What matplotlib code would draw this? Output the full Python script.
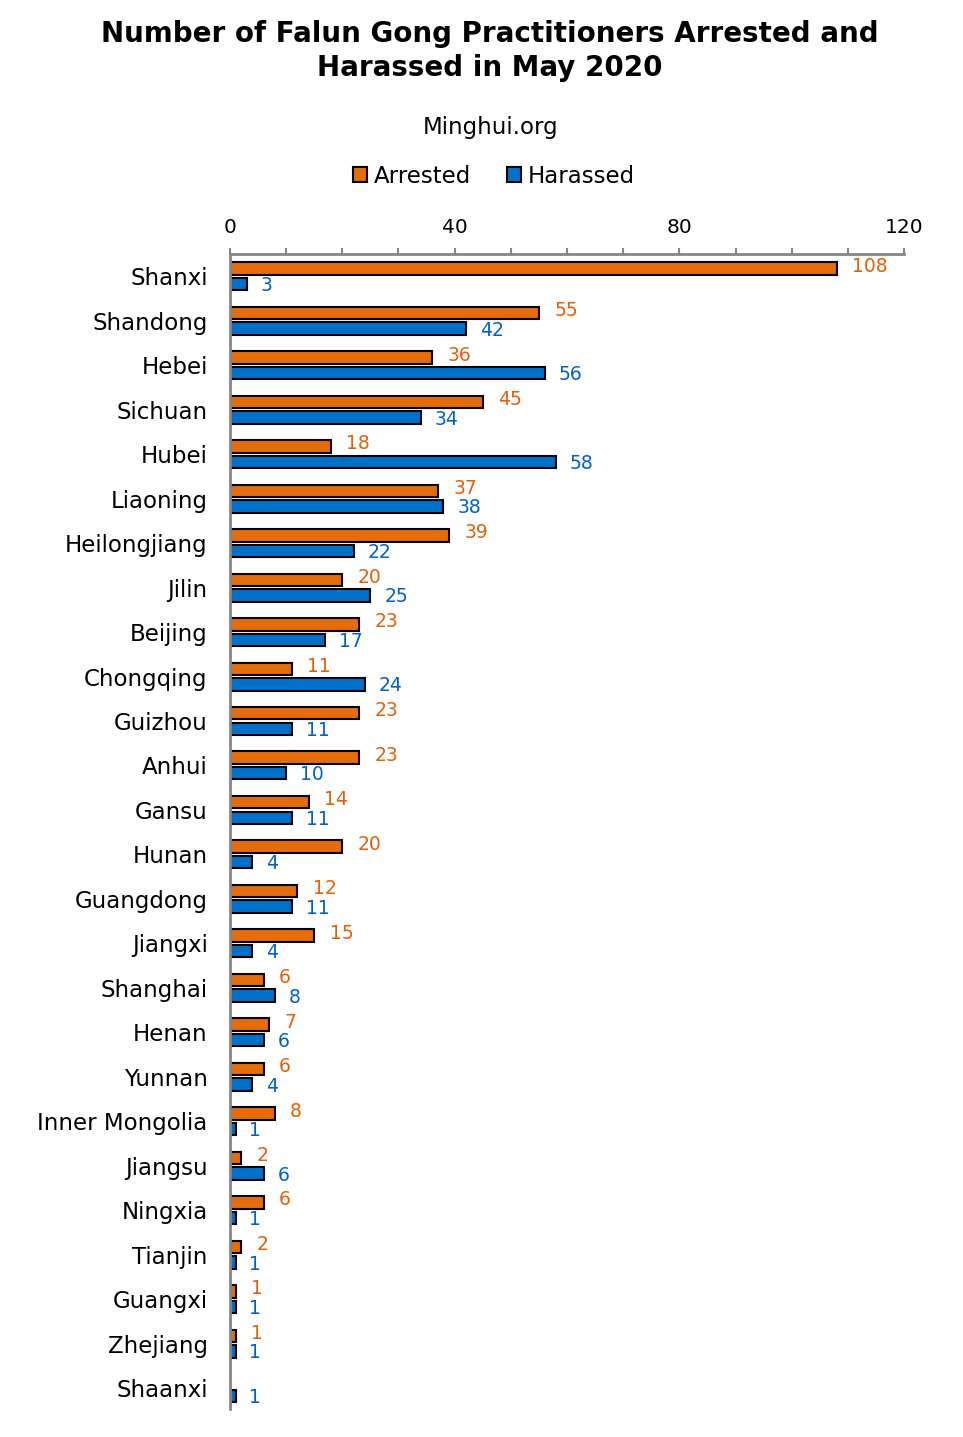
import matplotlib
matplotlib.use("Agg")
import matplotlib.pyplot as plt
from matplotlib.ticker import MultipleLocator
from matplotlib.patches import Patch
import numpy as np

provinces = ["Shanxi", "Shandong", "Hebei", "Sichuan", "Hubei", "Liaoning",
             "Heilongjiang", "Jilin", "Beijing", "Chongqing", "Guizhou", "Anhui",
             "Gansu", "Hunan", "Guangdong", "Jiangxi", "Shanghai", "Henan",
             "Yunnan", "Inner Mongolia", "Jiangsu", "Ningxia", "Tianjin",
             "Guangxi", "Zhejiang", "Shaanxi"]
arrested = [108, 55, 36, 45, 18, 37, 39, 20, 23, 11, 23, 23, 14, 20, 12, 15,
            6, 7, 6, 8, 2, 6, 2, 1, 1, 0]
harassed = [3, 42, 56, 34, 58, 38, 22, 25, 17, 24, 11, 10, 11, 4, 11, 4,
            8, 6, 4, 1, 6, 1, 1, 1, 1, 1]

ORANGE = "#E46C0A"
BLUE = "#0070C9"
ORANGE_TXT = "#E0610A"
BLUE_TXT = "#0060C8"
GRAY = "#868686"

fig = plt.figure(figsize=(9.63, 14.37), dpi=100)
ax = fig.add_axes([0.2388, 0.0195, 0.7000, 0.8037])

y = np.arange(len(provinces))
h = 0.28
ax.barh(y - 0.175, arrested, height=h, color=ORANGE, edgecolor="black", linewidth=1.5)
ax.barh(y + 0.175, harassed, height=h, color=BLUE, edgecolor="black", linewidth=1.5)

# value labels, orange a bit above, blue a bit below
for i in range(len(provinces)):
    if arrested[i] > 0:
        ax.annotate(str(arrested[i]), (arrested[i], y[i] - 0.23), xytext=(11, 0),
                    textcoords="offset points", ha="left", va="center",
                    fontsize=13.5, color=ORANGE_TXT)
    ax.annotate(str(harassed[i]), (harassed[i], y[i] + 0.21), xytext=(10, 0),
                textcoords="offset points", ha="left", va="center",
                fontsize=13.5, color=BLUE_TXT)

ax.set_xlim(0, 120)
ax.set_ylim(25.47, -0.5)
ax.xaxis.set_major_locator(MultipleLocator(40))
ax.xaxis.set_minor_locator(MultipleLocator(10))
ax.xaxis.tick_top()
ax.tick_params(axis="x", which="both", direction="out", length=4, width=1.5,
               color=GRAY, labelsize=14.5, pad=8)
ax.tick_params(axis="y", length=0, labelsize=16.5, pad=16)
ax.set_yticks(y)
ax.set_yticklabels(provinces)

for s in ["right", "bottom"]:
    ax.spines[s].set_visible(False)
for s in ["top", "left"]:
    ax.spines[s].set_color(GRAY)
    ax.spines[s].set_linewidth(2)

fig.text(0.509, 0.986, "Number of Falun Gong Practitioners Arrested and\nHarassed in May 2020",
         ha="center", va="top", fontsize=20, fontweight="bold", linespacing=1.25)
fig.text(0.509, 0.911, "Minghui.org", ha="center", va="center", fontsize=16.5)

handles = [Patch(facecolor=ORANGE, edgecolor="black", linewidth=1.5, label="Arrested"),
           Patch(facecolor=BLUE, edgecolor="black", linewidth=1.5, label="Harassed")]
fig.legend(handles=handles, loc="center", bbox_to_anchor=(0.513, 0.8775), ncol=2,
           frameon=False, fontsize=16.5, handlelength=0.6, handleheight=0.6,
           handletextpad=0.3, columnspacing=1.6)

fig.savefig("out.png", dpi=100)
